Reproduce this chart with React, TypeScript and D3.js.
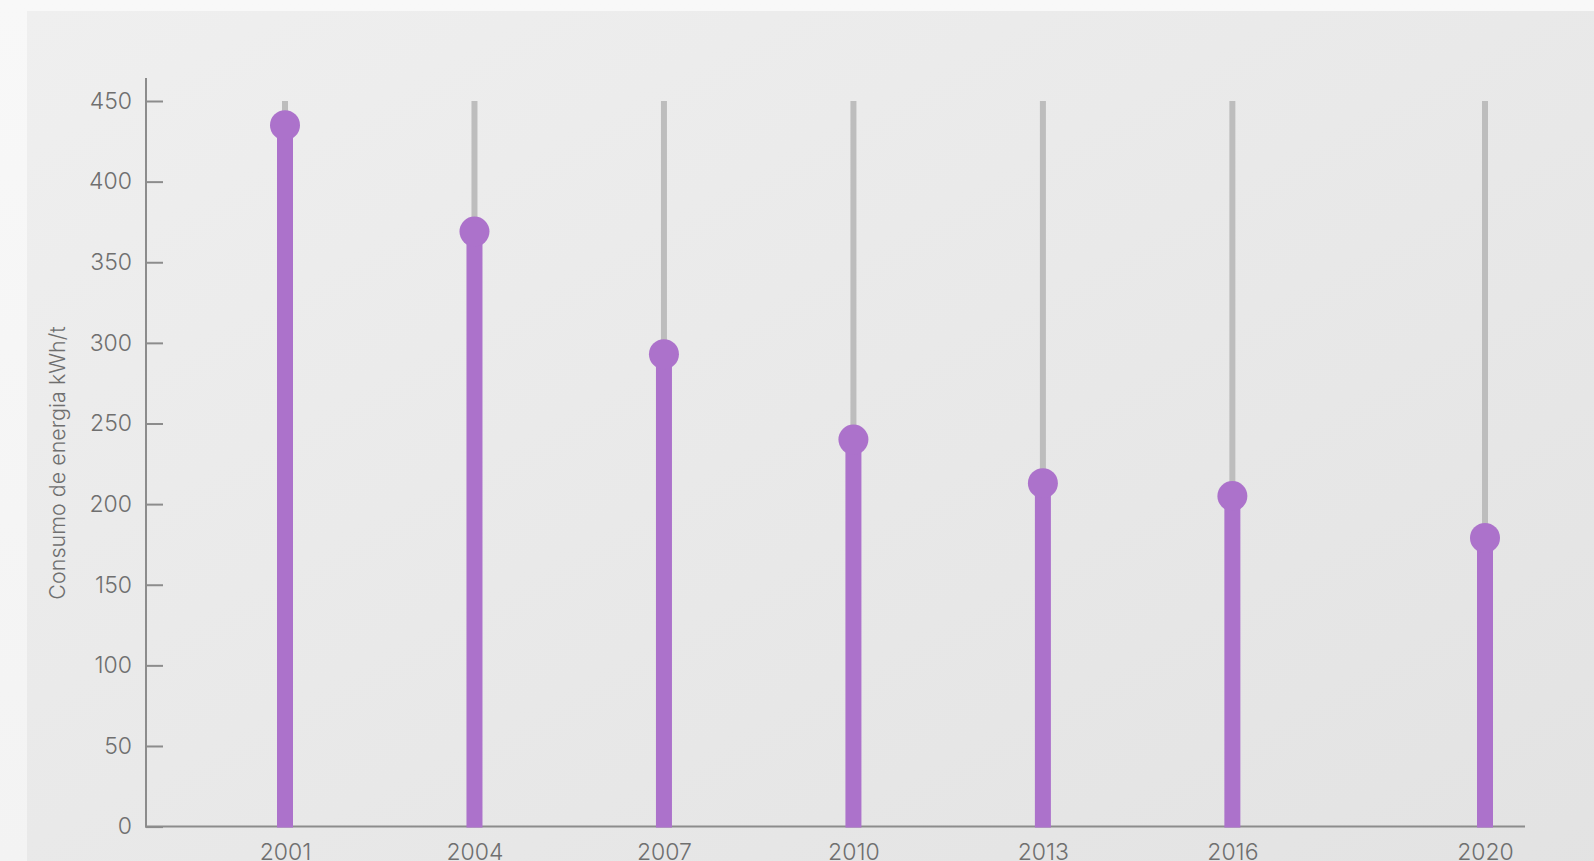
import React, { useEffect, useRef } from "react";
import * as d3 from "d3";

const years = [2001, 2004, 2007, 2010, 2013, 2016, 2020];
const consumption = [435, 369, 293, 240, 213, 205, 179];
const yTicks = [0, 50, 100, 150, 200, 250, 300, 350, 400, 450];
const yLabel = "Consumo de energia kWh/t";

const W = 1594;
const H = 861;
const FONT = "Inter, 'Noto Sans', sans-serif";

export default function App() {
  const ref = useRef<SVGSVGElement | null>(null);

  useEffect(() => {
    const svg = d3.select(ref.current);
    svg.selectAll("*").remove();

    const defs = svg.append("defs");
    const grad = defs
      .append("linearGradient")
      .attr("id", "panelGrad")
      .attr("x1", "0%")
      .attr("y1", "0%")
      .attr("x2", "100%")
      .attr("y2", "100%");
    grad.append("stop").attr("offset", "0%").attr("stop-color", "#efefef");
    grad.append("stop").attr("offset", "100%").attr("stop-color", "#e2e2e2");

    const outer = defs
      .append("linearGradient")
      .attr("id", "outerGrad")
      .attr("x1", "0%")
      .attr("y1", "0%")
      .attr("x2", "0%")
      .attr("y2", "100%");
    outer.append("stop").attr("offset", "0%").attr("stop-color", "#f8f8f8");
    outer.append("stop").attr("offset", "100%").attr("stop-color", "#f3f3f3");

    svg.append("rect").attr("width", W).attr("height", H).attr("fill", "url(#outerGrad)");
    svg
      .append("rect")
      .attr("x", 27)
      .attr("y", 11)
      .attr("width", W + 40)
      .attr("height", H + 40)
      .attr("fill", "url(#panelGrad)");

    const x = d3.scaleLinear().domain([2001, 2020]).range([285, 1485]);
    const y = d3.scaleLinear().domain([0, 450]).range([826.6, 101]);

    const axisColor = "#8c8c8c";
    const textColor = "#6f6f6f";

    // y axis
    const yAxis = d3
      .axisLeft(y)
      .tickValues(yTicks)
      .tickSizeInner(-17)
      .tickSizeOuter(0)
      .tickPadding(14)
      .tickFormat((d) => String(d));
    const gy = svg.append("g").attr("transform", "translate(146,0)").call(yAxis);
    gy.select(".domain").remove();
    gy.selectAll(".tick line").attr("stroke", axisColor).attr("stroke-width", 2);
    gy.selectAll(".tick text")
      .attr("fill", textColor)
      .attr("font-family", FONT)
      .attr("font-weight", 300)
      .attr("font-size", 23);
    gy.append("line")
      .attr("x1", 0)
      .attr("x2", 0)
      .attr("y1", 78)
      .attr("y2", y(0) + 1)
      .attr("stroke", axisColor)
      .attr("stroke-width", 2);

    // x axis line
    svg
      .append("line")
      .attr("x1", 145)
      .attr("x2", 1525)
      .attr("y1", y(0))
      .attr("y2", y(0))
      .attr("stroke", axisColor)
      .attr("stroke-width", 2);

    // x labels
    const xAxis = d3
      .axisBottom(x)
      .tickValues(years)
      .tickSize(0)
      .tickPadding(0)
      .tickFormat((d) => String(d));
    const gx = svg.append("g").attr("transform", `translate(0,${y(0)})`).call(xAxis);
    gx.select(".domain").remove();
    gx.selectAll(".tick text")
      .attr("fill", textColor)
      .attr("font-family", FONT)
      .attr("font-weight", 300)
      .attr("font-size", 23)
      .attr("dy", null)
      .attr("y", 33);

    // lollipops
    const data = years.map((yr, i) => ({ yr, v: consumption[i] }));
    const g = svg.append("g");
    g.selectAll("rect.bg")
      .data(data)
      .join("rect")
      .attr("class", "bg")
      .attr("x", (d) => x(d.yr) - 3)
      .attr("y", y(450))
      .attr("width", 6)
      .attr("height", y(0) - y(450))
      .attr("fill", "#bdbdbd");
    g.selectAll("rect.bar")
      .data(data)
      .join("rect")
      .attr("class", "bar")
      .attr("x", (d) => x(d.yr) - 8)
      .attr("y", (d) => y(d.v))
      .attr("width", 16)
      .attr("height", (d) => y(0) - y(d.v) + 1)
      .attr("fill", "#ac72cb");
    g.selectAll("circle")
      .data(data)
      .join("circle")
      .attr("cx", (d) => x(d.yr))
      .attr("cy", (d) => y(d.v))
      .attr("r", 15)
      .attr("fill", "#ac72cb");

    // y label
    svg
      .append("text")
      .attr("transform", "translate(65,463) rotate(-90)")
      .attr("text-anchor", "middle")
      .attr("fill", textColor)
      .attr("font-family", FONT)
      .attr("font-weight", 300)
      .attr("font-size", 21.5)
      .text(yLabel);
  }, []);

  return (
    <svg
      ref={ref}
      width={W}
      height={H}
      style={{ position: "absolute", left: 0, top: 0, display: "block" }}
    />
  );
}
